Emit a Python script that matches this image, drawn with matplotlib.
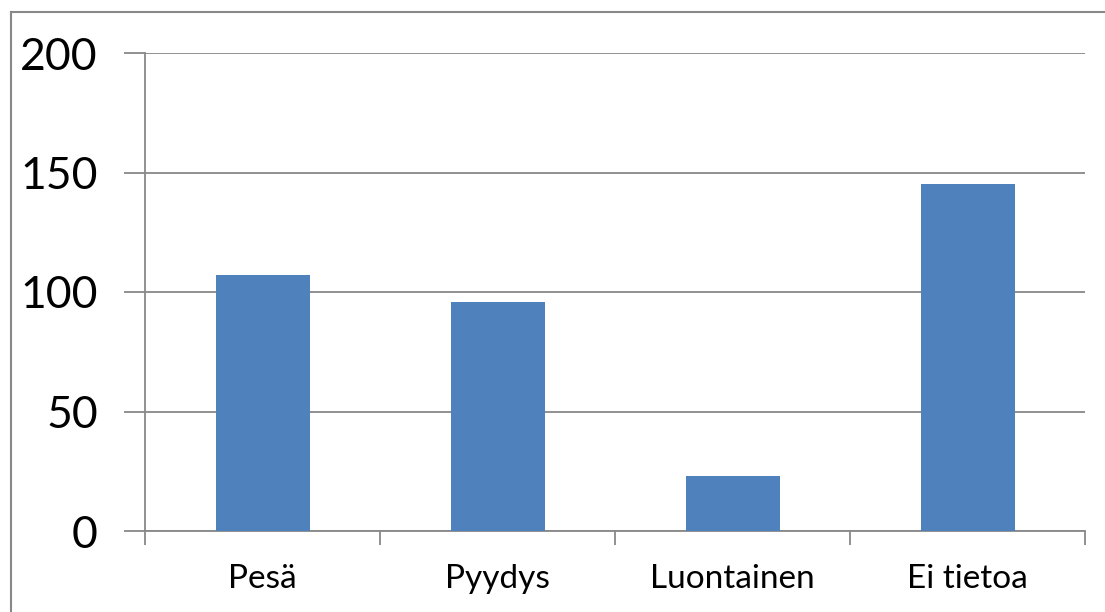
import matplotlib
matplotlib.use("Agg")
import matplotlib.pyplot as plt
from matplotlib.lines import Line2D

categories = ["Pesä", "Pyydys", "Luontainen", "Ei tietoa"]
values = [107, 96, 23, 145]
yticks = [0, 50, 100, 150, 200]

plt.rcParams['font.family'] = ['Lato', 'DejaVu Sans']

W, H = 1105, 612
fig = plt.figure(figsize=(W / 100, H / 100), dpi=100)
ax = fig.add_axes([145 / W, 1 - 531 / H, (1085 - 145) / W, (531 - 53) / H])

grid_c = "#888888"
x = list(range(len(categories)))
ax.bar(x, values, width=0.4, color="#4F81BD", zorder=3)
ax.set_xlim(-0.5, len(categories) - 0.5)
ax.set_ylim(0, 200)
ax.set_yticks(yticks)
ax.set_yticklabels([str(t) for t in yticks], fontsize=32)
ax.yaxis.grid(True, color=grid_c, linewidth=1.3, zorder=0)
ax.tick_params(axis='y', length=15, width=1.3, color=grid_c, pad=19)

ax.set_xticks([i - 0.5 for i in range(len(categories) + 1)], minor=False)
ax.set_xticklabels([""] * (len(categories) + 1))
ax.set_xticks(x, minor=True)
ax.set_xticklabels(categories, minor=True, fontsize=24)
ax.tick_params(axis='x', which='major', length=10, width=1.3, color=grid_c, direction='out')
ax.tick_params(axis='x', which='minor', length=0, pad=24)

for s in ['top', 'right']:
    ax.spines[s].set_visible(False)
for s in ['left', 'bottom']:
    ax.spines[s].set_color(grid_c)
    ax.spines[s].set_linewidth(1.3)

# outer chart border (left and top only visible)
fig.add_artist(Line2D([10.5 / W, 10.5 / W], [0, 1 - 11.5 / H], transform=fig.transFigure,
                      color=grid_c, linewidth=1.5))
fig.add_artist(Line2D([10.5 / W, 1], [1 - 11.5 / H, 1 - 11.5 / H], transform=fig.transFigure,
                      color=grid_c, linewidth=1.5))

fig.savefig("out.png", dpi=100)
